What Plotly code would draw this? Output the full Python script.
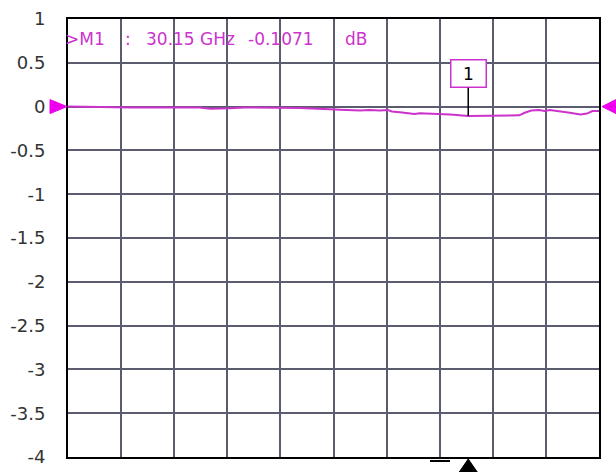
import plotly.graph_objects as go

# Frequency points (GHz) and S-parameter magnitude (dB)
freq_ghz = [0.0, 2.4, 4.7, 9.9, 10.7, 12.2, 13.3, 17.5, 19.0, 19.7, 20.5, 21.2,
            22.0, 22.7, 23.5, 24.1, 24.4, 25.0, 25.8, 26.1, 26.5, 28.0, 28.8,
            30.15, 31.0, 32.5, 34.0, 34.4, 34.9, 35.5, 35.9, 36.3, 37.0, 37.8,
            38.6, 39.1, 39.5, 40.0]
mag_db = [0.0, -0.005, -0.01, -0.01, -0.025, -0.02, -0.01, -0.015, -0.02, -0.03,
          -0.035, -0.04, -0.045, -0.04, -0.045, -0.04, -0.055, -0.065, -0.075,
          -0.085, -0.075, -0.08, -0.09, -0.1071, -0.105, -0.105, -0.10, -0.07,
          -0.045, -0.04, -0.05, -0.04, -0.05, -0.07, -0.09, -0.08, -0.05, -0.05]

marker_freq = 30.15
marker_val = -0.1071
ref_level = 0.0
y_range = [-4, 1]
y_ticks = [1, 0.5, 0, -0.5, -1, -1.5, -2, -2.5, -3, -3.5, -4]
y_tick_text = ["1", "0.5", "0", "-0.5", "-1", "-1.5", "-2", "-2.5", "-3", "-3.5", "-4"]

MAG = "#cc33cc"
TRI = "#ee00ee"
FONT = "DejaVu Sans"

fig = go.Figure()
fig.add_trace(go.Scatter(x=freq_ghz, y=mag_db, mode="lines",
                         line=dict(color=MAG, width=2), hoverinfo="skip",
                         showlegend=False))

fig.update_layout(
    width=616, height=472,
    margin=dict(l=68, r=17, t=19, b=15, pad=0),
    paper_bgcolor="white", plot_bgcolor="white",
    xaxis=dict(range=[0, 40], dtick=4, tick0=0, showticklabels=False,
               showgrid=True, gridcolor="#5c5c70", gridwidth=1.5,
               zeroline=False, showline=True, linecolor="black",
               linewidth=2, mirror=True, ticks="", automargin=False),
    yaxis=dict(range=y_range, tickvals=y_ticks, ticktext=y_tick_text,
               showgrid=True, gridcolor="#5c5c70", gridwidth=1.5,
               zeroline=False, showline=True, linecolor="black",
               linewidth=2, mirror=True, ticks="", automargin=False,
               ticklabelstandoff=17,
               tickfont=dict(family=FONT, size=18, color="#333333")),
)

def px(xpix):
    return (xpix - 68) / 531.0

def py(ypix):
    return (457 - ypix) / 438.0

# marker readout text
for txt, xp in [(">M1", 63), (":", 123), ("30.15 GHz", 144), ("-0.1071", 246), ("dB", 343)]:
    fig.add_annotation(text=txt, xref="paper", yref="paper", x=px(xp), y=py(39),
                       xanchor="left", yanchor="middle", showarrow=False,
                       font=dict(family=FONT, size=17, color=MAG))

# marker flag "1"
fig.add_annotation(x=marker_freq, y=marker_val, xref="x", yref="y",
                   text="1", showarrow=True, arrowhead=0, arrowwidth=1.5,
                   arrowcolor="black", ax=0, ay=-42,
                   bordercolor=MAG, borderwidth=1.5, borderpad=2,
                   bgcolor="white", width=30, height=22,
                   font=dict(family=FONT, size=17, color="black"))

# reference level triangles at 0 dB (paper coords so they are not clipped)
ry = (ref_level - y_range[0]) / (y_range[1] - y_range[0])
dy = 7 / 438.0
fig.add_shape(type="path", xref="paper", yref="paper",
              path=f"M {px(50)} {ry + dy} L {px(67)} {ry} L {px(50)} {ry - dy} Z",
              fillcolor=TRI, line=dict(color=TRI, width=1))
fig.add_shape(type="path", xref="paper", yref="paper",
              path=f"M {px(616)} {ry + dy} L {px(602)} {ry} L {px(616)} {ry - dy} Z",
              fillcolor=TRI, line=dict(color=TRI, width=1))

# marker position triangle below the grid
hw = 9 * 40 / 531.0
fig.add_shape(type="path", xref="x", yref="paper",
              path=f"M {marker_freq} {py(459)} L {marker_freq + hw} {py(472)} L {marker_freq - hw} {py(472)} Z",
              fillcolor="black", line=dict(color="black", width=1))
fig.add_shape(type="line", xref="paper", yref="paper",
              x0=px(430), x1=px(450), y0=py(461), y1=py(461),
              line=dict(color="black", width=2))

fig.write_html("out.html",
               config={"displayModeBar": False},
               post_script="document.body.style.margin='0';"
                           "document.body.style.overflow='hidden';")
